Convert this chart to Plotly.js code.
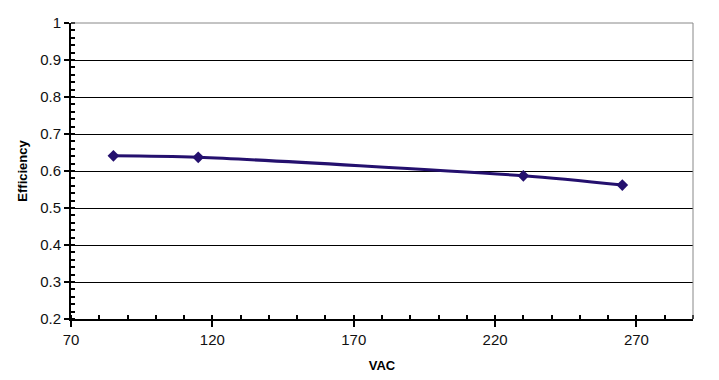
<!DOCTYPE html>
<html><head><meta charset="utf-8">
<script src="https://cdn.plot.ly/plotly-3.0.1.min.js"></script>
<style>body{margin:0;background:#fff}#chart{width:719px;height:380px}</style>
</head><body><div id="chart"></div>
<script>
const vac = [85, 115, 230, 265];
const efficiency = [0.641, 0.637, 0.587, 0.562];

const trace = {
  x: vac, y: efficiency, type: 'scatter', mode: 'lines+markers',
  line: {color: '#24106e', width: 3, shape: 'spline', smoothing: 0.8},
  marker: {symbol: 'diamond', size: 9, color: '#24106e'}
};
const layout = {
  width: 719, height: 380,
  margin: {l: 71, r: 26, t: 23, b: 61},
  paper_bgcolor: '#fff', plot_bgcolor: '#fff',
  showlegend: false,
  font: {family: 'Liberation Sans, Arial, sans-serif', size: 14, color: '#000'},
  xaxis: {
    range: [70, 290], dtick: 50, tick0: 70, showgrid: false, zeroline: false,
    showline: true, linecolor: '#000', linewidth: 2, mirror: false,
    ticks: 'outside', ticklen: 6, tickwidth: 2, tickcolor: '#000',
    minor: {dtick: 10, ticks: 'inside', ticklen: 4, tickwidth: 2, tickcolor: '#000'},
    title: {text: '<b>VAC</b>', font: {size: 13}, standoff: 14},
    tickfont: {size: 15, color: '#111'}
  },
  yaxis: {
    range: [0.2, 1], dtick: 0.1, showgrid: true, gridcolor: '#000', gridwidth: 1,
    zeroline: false, showline: true, linecolor: '#000', linewidth: 2,
    ticks: 'outside', ticklen: 5, tickwidth: 2, tickcolor: '#000',
    minor: {dtick: 0.02, ticks: 'inside', ticklen: 4, tickwidth: 2, tickcolor: '#000', showgrid: false},
    title: {text: '<b>Efficiency</b>', font: {size: 13}, standoff: 10},
    tickfont: {size: 15, color: '#111'}
  },
  shapes: [
    {type: 'line', xref: 'paper', yref: 'paper', x0: 0, x1: 1, y0: 1, y1: 1, line: {color: '#888', width: 1}},
    {type: 'line', xref: 'paper', yref: 'paper', x0: 1, x1: 1, y0: 0, y1: 1, line: {color: '#888', width: 1}}
  ]
};
Plotly.newPlot('chart', [trace], layout, {displayModeBar: false, staticPlot: true});
</script></body></html>
